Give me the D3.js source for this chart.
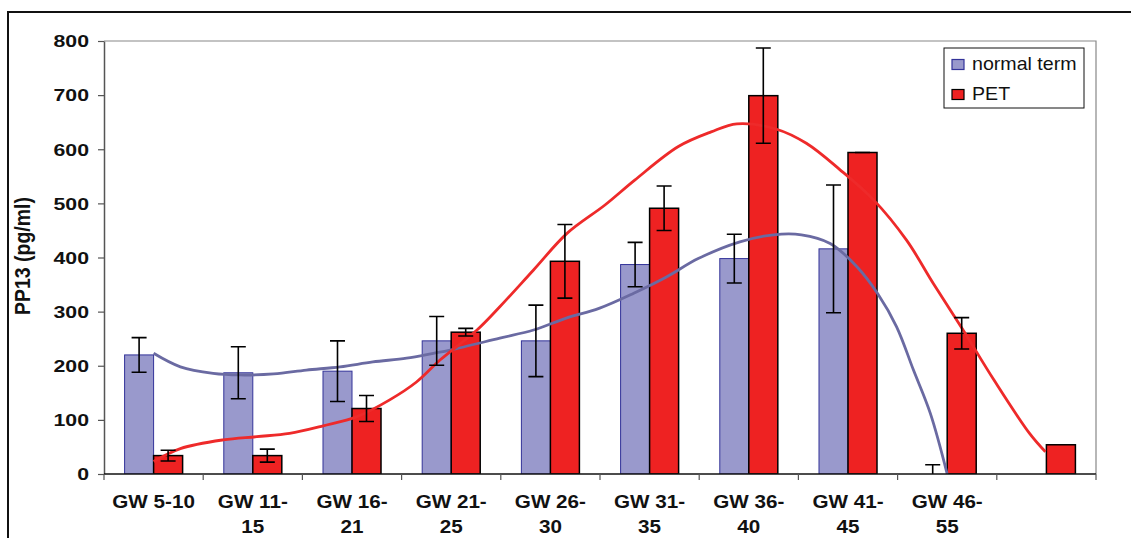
<!DOCTYPE html>
<html>
<head>
<meta charset="utf-8">
<script src="https://cdn.jsdelivr.net/npm/d3@7/dist/d3.min.js"></script>
<style>
  html, body { margin: 0; padding: 0; background: #fff; }
  svg { display: block; }
  text { font-family: "Liberation Sans", Arial, sans-serif; }
</style>
</head>
<body>
<svg id="chart" width="1131" height="538"></svg>
<script>
// ---------------- data ----------------
const categories = ["GW 5-10", "GW 11-15", "GW 16-21", "GW 21-25", "GW 26-30",
                    "GW 31-35", "GW 36-40", "GW 41-45", "GW 46-55", ""];
const seriesNames = ["normal term", "PET"];
const normalTerm    = [220, 187, 190, 246, 246, 387, 398, 416, 0, null];
const normalTermErr = [32, 48, 56, 45, 66, 41, 45, 118, 17, null];
const pet           = [34, 34, 121, 262, 393, 491, 699, 594, 260, 54];
const petErr        = [10, 12, 24, 7, 68, 41, 88, 0, 29, null];
const yTicks = [0, 100, 200, 300, 400, 500, 600, 700, 800];
const yTitle = "PP13 (pg/ml)";

// smoothed trend curves: [category position, value]
const normalTrend = [[0.00,223],[0.27,198],[0.60,186],[0.87,183],[1.21,185],[1.54,192],[1.88,198],
  [2.21,207],[2.55,214],[2.82,223],[2.99,229],[3.49,251],[3.83,266],[4.16,288],[4.49,306],
  [4.84,334],[5.17,364],[5.49,398],[5.91,429],[6.25,442],[6.53,442],[6.82,426],[7.09,383],
  [7.30,333],[7.49,272],[7.66,192],[7.83,112],[8.00,0]];
const petTrend = [[0.00,23],[0.27,47],[0.70,63],[1.04,69],[1.37,75],[1.71,89],[2.05,106],
  [2.38,137],[2.65,170],[2.89,211],[3.26,266],[3.49,309],[3.83,377],[4.17,445],[4.55,497],
  [4.85,543],[5.29,605],[5.62,632],[5.88,647],[6.28,637],[6.58,611],[6.92,562],[7.26,506],
  [7.59,432],[7.86,352],[8.16,266],[8.47,174],[8.83,75],[8.99,41]];

// ---------------- layout ----------------
const svg = d3.select("#chart");
const plot = {left: 104, right: 1096, top: 41, bottom: 474};
const colors = {normal: "#9999CC", normalStroke: "#333399", normalLine: "#6A6AA2",
                pet: "#EE2222", petStroke: "#000", petLine: "#EE2A2A"};

svg.append("rect").attr("width", 1131).attr("height", 538).attr("fill", "#fff");
// outer chart frame (only top and left edges are inside the picture)
svg.append("path").attr("d", "M8,540 L8,12 L1135,12")
  .attr("fill", "none").attr("stroke", "#111").attr("stroke-width", 2);

const x0 = d3.scaleBand().domain(categories).range([plot.left, plot.right]).padding(0);
const x1 = d3.scaleBand().domain(seriesNames).range([0, x0.bandwidth()]).paddingInner(0).paddingOuter(0.71);
const y = d3.scaleLinear().domain([0, 800]).range([plot.bottom, plot.top]);
const xPos = d3.scaleLinear().domain([0, categories.length - 1])
  .range([x0(categories[0]) + x0.bandwidth() / 2, x0(categories[categories.length - 1]) + x0.bandwidth() / 2]);

// plot area border (top/right)
svg.append("path")
  .attr("d", `M${plot.left},${plot.top} L${plot.right},${plot.top} L${plot.right},${plot.bottom}`)
  .attr("fill", "none").attr("stroke", "#888").attr("stroke-width", 1.2);

// clip
svg.append("clipPath").attr("id", "clip").append("rect")
  .attr("x", plot.left).attr("y", plot.top - 2).attr("width", plot.right - plot.left).attr("height", plot.bottom - plot.top + 2);

const g = svg.append("g").attr("clip-path", "url(#clip)");

// bars
const rows = categories.map((c, i) => ({c, i, n: normalTerm[i], ne: normalTermErr[i], p: pet[i], pe: petErr[i]}));
g.selectAll("rect.normal").data(rows.filter(d => d.n != null && d.n > 0)).join("rect")
  .attr("class", "normal")
  .attr("x", d => x0(d.c) + x1("normal term"))
  .attr("width", x1.bandwidth())
  .attr("y", d => y(d.n))
  .attr("height", d => y(0) - y(d.n))
  .attr("fill", colors.normal).attr("stroke", colors.normalStroke).attr("stroke-width", 1);
g.selectAll("rect.pet").data(rows.filter(d => d.p != null)).join("rect")
  .attr("class", "pet")
  .attr("x", d => x0(d.c) + x1("PET"))
  .attr("width", x1.bandwidth())
  .attr("y", d => y(d.p))
  .attr("height", d => y(0) - y(d.p))
  .attr("fill", colors.pet).attr("stroke", colors.petStroke).attr("stroke-width", 1.5);

// trend lines
const line = d3.line().x(d => xPos(d[0])).y(d => y(d[1])).curve(d3.curveCatmullRom.alpha(0.5));
g.append("path").datum(normalTrend).attr("d", line)
  .attr("fill", "none").attr("stroke", colors.normalLine).attr("stroke-width", 2.8);
g.append("path").datum(petTrend).attr("d", line)
  .attr("fill", "none").attr("stroke", colors.petLine).attr("stroke-width", 2.8);

// error bars
const capW = 7.5;
function errBars(key, vKey, eKey) {
  const data = rows.filter(d => d[vKey] != null && d[eKey] != null);
  const cx = d => x0(d.c) + x1(key) + x1.bandwidth() / 2;
  const eg = g.append("g").attr("stroke", "#000").attr("stroke-width", 1.6).attr("fill", "none");
  eg.selectAll("path").data(data).join("path")
    .attr("d", d => {
      const xc = cx(d), yt = y(d[vKey] + d[eKey]), yb = y(d[vKey] - d[eKey]);
      return `M${xc},${yt} L${xc},${yb} M${xc - capW},${yt} L${xc + capW},${yt} M${xc - capW},${yb} L${xc + capW},${yb}`;
    });
}
errBars("normal term", "n", "ne");
errBars("PET", "p", "pe");

// y axis
const yAxis = svg.append("g").attr("transform", `translate(${plot.left},0)`)
  .call(d3.axisLeft(y).tickValues(yTicks).tickSize(6).tickSizeOuter(0));
yAxis.select(".domain").attr("stroke", "#555").attr("stroke-width", 1.5);
yAxis.selectAll(".tick line").attr("stroke", "#555").attr("stroke-width", 1.2);
yAxis.selectAll(".tick text")
  .attr("x", 0).attr("dy", "0.36em")
  .attr("transform", "translate(-15,0) scale(1.33,1)")
  .attr("font-size", 16).attr("font-weight", "bold").attr("fill", "#111")
  .style("font-family", "'Liberation Sans', Arial, sans-serif");

// x axis
const xg = svg.append("g");
xg.append("line").attr("x1", plot.left).attr("x2", plot.right).attr("y1", y(0)).attr("y2", y(0))
  .attr("stroke", "#111").attr("stroke-width", 1.5);
const tickXs = categories.map(c => x0(c)).concat([x0(categories[categories.length - 1]) + x0.bandwidth()]);
xg.selectAll("line.tk").data(tickXs).join("line").attr("class", "tk")
  .attr("x1", d => d).attr("x2", d => d).attr("y1", y(0)).attr("y2", y(0) + 6)
  .attr("stroke", "#555").attr("stroke-width", 1.2);
categories.forEach(c => {
  if (!c) return;
  let lines = [c];
  const m = c.match(/^(GW \d+-)(\d+)$/);
  if (m && c.length > 7) lines = [m[1], m[2]];
  const cx = x0(c) + x0.bandwidth() / 2;
  lines.forEach((t, k) => {
    xg.append("text").text(t)
      .attr("text-anchor", "middle")
      .attr("transform", `translate(${cx},${507.5 + k * 25}) scale(1.18,1)`)
      .attr("font-size", 17.5).attr("font-weight", "bold").attr("fill", "#111");
  });
});

// y title
svg.append("text").text(yTitle)
  .attr("text-anchor", "middle")
  .attr("transform", "translate(30,256) scale(1.15,1) rotate(-90)")
  .attr("font-size", 19.5).attr("font-weight", "bold").attr("fill", "#111");

// legend
const lg = svg.append("g");
lg.append("rect").attr("x", 944).attr("y", 48).attr("width", 140).attr("height", 60)
  .attr("fill", "#fff").attr("stroke", "#111").attr("stroke-width", 1);
const legendItems = [
  {name: seriesNames[0], fill: colors.normal, stroke: colors.normalStroke},
  {name: seriesNames[1], fill: colors.pet, stroke: "#000"}
];
legendItems.forEach((d, k) => {
  const yy = 59.5 + k * 30;
  lg.append("rect").attr("x", 952).attr("y", yy).attr("width", 12).attr("height", 10)
    .attr("fill", d.fill).attr("stroke", d.stroke).attr("stroke-width", 1.2);
  lg.append("text").text(d.name)
    .attr("transform", `translate(972,${yy + 10}) scale(1.06,1)`)
    .attr("font-size", 18.5).attr("fill", "#111");
});
</script>
</body>
</html>
